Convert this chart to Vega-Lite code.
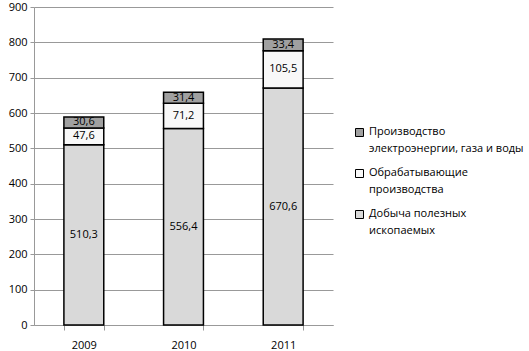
{
  "$schema": "https://vega.github.io/schema/vega-lite/v6.json",
  "width": 299,
  "height": 318,
  "autosize": {"type": "none"},
  "padding": {"left": 34, "top": 7, "right": 196, "bottom": 26},
  "config": {
    "locale": {"number": {"decimal": ",", "thousands": " ", "grouping": [3], "currency": ["", ""]}},
    "font": "Open Sans",
    "view": {"stroke": null},
    "background": "white"
  },
  "data": {
    "values": [
      {"year": "2009", "sector": "Добыча полезных ископаемых", "k": 1, "value": 510.3},
      {"year": "2009", "sector": "Обрабатывающие производства", "k": 2, "value": 47.6},
      {"year": "2009", "sector": "Производство электроэнергии, газа и воды", "k": 3, "value": 30.6},
      {"year": "2010", "sector": "Добыча полезных ископаемых", "k": 1, "value": 556.4},
      {"year": "2010", "sector": "Обрабатывающие производства", "k": 2, "value": 71.2},
      {"year": "2010", "sector": "Производство электроэнергии, газа и воды", "k": 3, "value": 31.4},
      {"year": "2011", "sector": "Добыча полезных ископаемых", "k": 1, "value": 670.6},
      {"year": "2011", "sector": "Обрабатывающие производства", "k": 2, "value": 105.5},
      {"year": "2011", "sector": "Производство электроэнергии, газа и воды", "k": 3, "value": 33.4}
    ]
  },
  "transform": [
    {"stack": "value", "groupby": ["year"], "sort": [{"field": "k", "order": "ascending"}], "as": ["v0", "v1"]},
    {"calculate": "(datum.v0 + datum.v1) / 2", "as": "mid"}
  ],
  "encoding": {
    "x": {
      "field": "year",
      "type": "nominal",
      "scale": {"paddingInner": 0.6, "paddingOuter": 0.3},
      "axis": {
        "title": null,
        "labelAngle": 0,
        "labelFontSize": 11,
        "labelColor": "black",
        "domainColor": "#999999",
        "tickColor": "#999999",
        "tickSize": 5,
        "tickBand": "extent",
        "labelPadding": 9
      }
    }
  },
  "layer": [
    {
      "mark": {"type": "bar", "stroke": "black", "strokeWidth": 1.5},
      "encoding": {
        "y": {
          "field": "v0",
          "type": "quantitative",
          "scale": {"domain": [0, 900], "nice": false},
          "axis": {
            "title": null,
            "values": [0, 100, 200, 300, 400, 500, 600, 700, 800, 900],
            "format": "d",
            "labelOverlap": false,
            "grid": true,
            "gridColor": "#999999",
            "domainColor": "#999999",
            "tickColor": "#999999",
            "tickSize": 4,
            "labelPadding": 3,
            "labelFontSize": 11,
            "labelColor": "black"
          }
        },
        "y2": {"field": "v1"},
        "color": {
          "field": "sector",
          "type": "nominal",
          "scale": {
            "domain": ["Производство электроэнергии, газа и воды", "Обрабатывающие производства", "Добыча полезных ископаемых"],
            "range": ["#a0a0a0", "#f8f8f8", "#d9d9d9"]
          },
          "legend": {
            "title": null,
            "orient": "none",
            "legendX": 320,
            "legendY": 120,
            "symbolType": "square",
            "symbolSize": 64,
            "symbolStrokeColor": "black",
            "symbolStrokeWidth": 1,
            "labelFontSize": 11,
            "labelColor": "black",
            "labelLimit": 220,
            "labelBaseline": "top",
            "rowPadding": 12,
            "labelExpr": "datum.label == 'Производство электроэнергии, газа и воды' ? ['Производство', 'электроэнергии, газа и воды'] : datum.label == 'Обрабатывающие производства' ? ['Обрабатывающие', 'производства'] : ['Добыча полезных', 'ископаемых']",
            "encode": {"labels": {"update": {"dy": {"value": -7}, "lineHeight": {"value": 17}}}}
          }
        }
      }
    },
    {
      "mark": {"type": "text", "fontSize": 11, "color": "black"},
      "encoding": {
        "y": {
          "field": "mid",
          "type": "quantitative",
          "scale": {"domain": [0, 900], "nice": false},
          "axis": {
            "title": null,
            "values": [0, 100, 200, 300, 400, 500, 600, 700, 800, 900],
            "format": "d",
            "labelOverlap": false,
            "grid": true,
            "gridColor": "#999999",
            "domainColor": "#999999",
            "tickColor": "#999999",
            "tickSize": 4,
            "labelPadding": 3,
            "labelFontSize": 11,
            "labelColor": "black"
          }
        },
        "text": {"field": "value", "type": "quantitative", "format": ".1f"}
      }
    }
  ]
}
